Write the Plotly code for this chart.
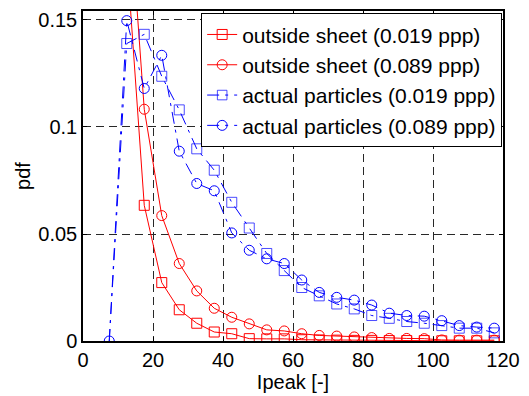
import plotly.graph_objects as go

# x bin centres
x_red = [12.5, 17.5, 22.5, 27.5, 32.5, 37.5, 42.5, 47.5, 52.5, 57.5, 62.5, 67.5,
         72.5, 77.5, 82.5, 87.5, 92.5, 97.5, 102.5, 107.5, 112.5, 117.5]
x_blue = [7.5, 12.5, 17.5, 22.5, 27.5, 32.5, 37.5, 42.5, 47.5, 52.5, 57.5, 62.5, 67.5,
          72.5, 77.5, 82.5, 87.5, 92.5, 97.5, 102.5, 107.5, 112.5, 117.5]

outside_019 = [0.180, 0.0634, 0.0273, 0.0146, 0.0083, 0.0042, 0.0034, 0.0011, 0.0010,
               0.0010, 0.0006, 0.0005, 0.0004, 0.0003, 0.0003, 0.0002, 0.0002, 0.0002,
               0.0001, 0.0001, 0.0001, 0.0001]
outside_089 = [0.222, 0.1083, 0.0586, 0.0362, 0.0234, 0.0153, 0.0111, 0.0080, 0.0052,
               0.0047, 0.0034, 0.0026, 0.0023, 0.0019, 0.0016, 0.0012, 0.0012, 0.0011,
               0.0005, 0.0004, 0.0004, 0.0004]
actual_019 = [0.0, 0.139, 0.1433, 0.1237, 0.108, 0.0898, 0.0798, 0.0648, 0.0528, 0.0409,
              0.0329, 0.0250, 0.0211, 0.0173, 0.0150, 0.0119, 0.0106, 0.0091, 0.0083,
              0.0072, 0.0060, 0.0060, 0.0038]
actual_089 = [0.0, 0.1497, 0.118, 0.1335, 0.0887, 0.0736, 0.0702, 0.0505, 0.0424, 0.0384,
              0.0362, 0.0285, 0.0227, 0.0204, 0.0191, 0.0168, 0.0130, 0.0119, 0.0116,
              0.0095, 0.0072, 0.0065, 0.0060]

names = ["outside sheet (0.019 ppp)", "outside sheet (0.089 ppp)",
         "actual particles (0.019 ppp)", "actual particles (0.089 ppp)"]

x_ticks = [0, 20, 40, 60, 80, 100, 120]
y_ticks = [0, 0.05, 0.1, 0.15]
y_tick_text = ["0", "0.05", "0.1", "0.15"]

RED = "rgb(255,0,0)"
BLUE = "rgb(0,0,255)"
DASHDOT = "12px,6px,3px,6px"

fig = go.Figure()
fig.add_trace(go.Scatter(x=x_red, y=outside_019, name=names[0], mode="lines+markers",
                         line=dict(color=RED, width=1),
                         marker=dict(symbol="square-open", size=10, color=RED, line=dict(width=1))))
fig.add_trace(go.Scatter(x=x_red, y=outside_089, name=names[1], mode="lines+markers",
                         line=dict(color=RED, width=1),
                         marker=dict(symbol="circle-open", size=10, color=RED, line=dict(width=1))))
fig.add_trace(go.Scatter(x=x_blue, y=actual_019, name=names[2], mode="lines+markers",
                         line=dict(color=BLUE, width=1, dash=DASHDOT),
                         marker=dict(symbol="square-open", size=[0] + [10] * (len(x_blue) - 1),
                                     color=BLUE, line=dict(width=1))))
fig.add_trace(go.Scatter(x=x_blue, y=actual_089, name=names[3], mode="lines+markers",
                         line=dict(color=BLUE, width=1, dash=DASHDOT),
                         marker=dict(symbol="circle-open", size=10, color=BLUE, line=dict(width=1))))

axis_common = dict(showline=True, linecolor="black", linewidth=1.5, mirror="ticks",
                   ticks="inside", ticklen=4, tickcolor="black",
                   showgrid=True, gridcolor="rgb(40,40,40)", gridwidth=1, griddash="8px,5px",
                   zeroline=False, tickfont=dict(size=20, color="black"))

fig.update_xaxes(range=[0, 120], tickvals=x_ticks,
                 title=dict(text="Ipeak [-]", font=dict(size=20, color="black"), standoff=2),
                 **axis_common)
fig.update_yaxes(range=[0, 0.1542], tickvals=y_ticks, ticktext=y_tick_text,
                 title=dict(text="pdf", font=dict(size=20, color="black"), standoff=2),
                 **axis_common)

fig.update_layout(
    width=529, height=396,
    margin=dict(l=83, r=24, t=9, b=54),
    paper_bgcolor="white", plot_bgcolor="white",
    font=dict(family="Liberation Sans, Arial, sans-serif", color="black"),
    legend=dict(x=0.998, y=0.993, xanchor="right", yanchor="top",
                bgcolor="white", bordercolor="black", borderwidth=1,
                font=dict(size=21, color="black"), tracegroupgap=0),
)

fig.write_html("out.html")
